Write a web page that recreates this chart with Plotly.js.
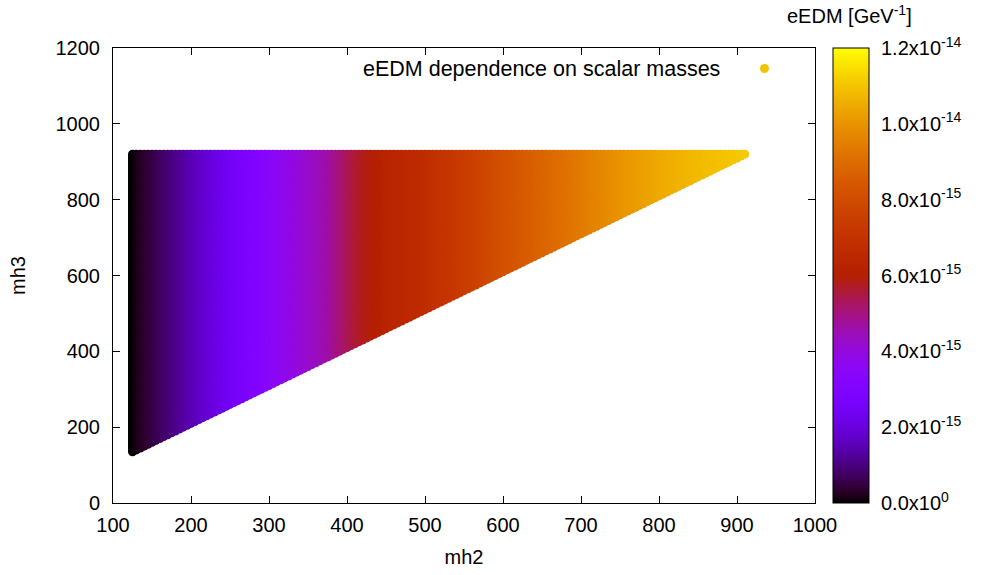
<!DOCTYPE html>
<html>
<head>
<meta charset="utf-8">
<script src="https://cdn.plot.ly/plotly-3.0.1.min.js"></script>
<style>
  html, body { margin: 0; padding: 0; background: #fff; }
  #chart { width: 981px; height: 575px; }
</style>
</head>
<body>
<div id="chart"></div>
<script>
// Scan grid: scalar masses mh2 (columns) and mh3 (rows), in GeV
const mh2 = [125,130,135,140,145,150,155,160,165,170,175,180,185,190,195,200,205,210,215,220,
  225,230,235,240,245,250,255,260,265,270,275,280,285,290,295,300,305,310,315,320,
  325,330,335,340,345,350,355,360,365,370,375,380,385,390,395,400,405,410,415,420,
  425,430,435,440,445,450,455,460,465,470,475,480,485,490,495,500,505,510,515,520,
  525,530,535,540,545,550,555,560,565,570,575,580,585,590,595,600,605,610,615,620,
  625,630,635,640,645,650,655,660,665,670,675,680,685,690,695,700,705,710,715,720,
  725,730,735,740,745,750,755,760,765,770,775,780,785,790,795,800,805,810,815,820,
  825,830,835,840,845,850,855,860,865,870,875,880,885,890,895,900,905,910];

const mh3 = [135,140,145,150,155,160,165,170,175,180,185,190,195,200,205,210,215,220,
  225,230,235,240,245,250,255,260,265,270,275,280,285,290,295,300,305,310,315,320,
  325,330,335,340,345,350,355,360,365,370,375,380,385,390,395,400,405,410,415,420,
  425,430,435,440,445,450,455,460,465,470,475,480,485,490,495,500,505,510,515,520,
  525,530,535,540,545,550,555,560,565,570,575,580,585,590,595,600,605,610,615,620,
  625,630,635,640,645,650,655,660,665,670,675,680,685,690,695,700,705,710,715,720,
  725,730,735,740,745,750,755,760,765,770,775,780,785,790,795,800,805,810,815,820,
  825,830,835,840,845,850,855,860,865,870,875,880,885,890,895,900,905,910,915,920];

// eEDM for each mh2 column, in units of 1e-15 GeV^-1
const eedm15 = [0.00,0.10,0.19,0.29,0.38,0.48,0.58,0.67,0.77,0.86,0.96,1.06,1.15,1.25,1.34,1.44,
  1.54,1.63,1.73,1.82,1.92,2.02,2.11,2.21,2.30,2.40,
  2.50,2.59,2.69,2.78,2.88,2.98,3.07,3.17,3.26,3.36,
  3.44,3.53,3.61,3.70,3.78,3.86,3.95,4.03,4.12,4.20,
  4.28,4.36,4.44,4.52,4.60,4.72,4.86,5.00,5.14,5.28,
  5.40,5.52,5.64,5.74,5.82,5.90,5.99,6.07,6.16,6.24,
  6.29,6.34,6.38,6.43,6.48,6.53,6.58,6.62,6.67,6.72,
  6.78,6.85,6.91,6.98,7.04,7.10,7.17,7.23,7.30,7.36,
  7.44,7.52,7.60,7.68,7.76,7.84,7.92,8.00,8.08,8.16,
  8.22,8.28,8.34,8.40,8.46,8.52,8.58,8.64,8.70,8.76,
  8.82,8.88,8.94,9.00,9.06,9.12,9.18,9.24,9.30,9.36,
  9.42,9.48,9.54,9.60,9.66,9.72,9.78,9.84,9.90,9.96,
  10.01,10.06,10.10,10.15,10.20,10.25,10.30,10.34,10.39,10.44,
  10.48,10.51,10.55,10.58,10.62,10.66,10.69,10.73,10.76,10.80,
  10.82,10.85,10.87,10.90,10.92,10.94,10.97,10.99,11.02,11.04,
  11.07,11.10];

// Only mass orderings with mh3 at least this far above mh2 are in the scan
const minSplit = 10;

// Colour bar ticks
const cbTickVals = [0, 2e-15, 4e-15, 6e-15, 8e-15, 1e-14, 1.2e-14];
const cbTickText = ['0.0x10<sup>0</sup>', '2.0x10<sup>-15</sup>', '4.0x10<sup>-15</sup>',
  '6.0x10<sup>-15</sup>', '8.0x10<sup>-15</sup>', '1.0x10<sup>-14</sup>', '1.2x10<sup>-14</sup>'];

// Build the point table
const xs = [], ys = [], cs = [];
mh2.forEach((m2, i) => {
  mh3.forEach(m3 => {
    if (m3 - m2 >= minSplit) {
      xs.push(m2);
      ys.push(m3);
      cs.push(eedm15[i] * 1e-15);
    }
  });
});

// gnuplot default pm3d palette (rgbformulae 7,5,15)
const palette = [];
for (let k = 0; k <= 60; k++) {
  const t = k / 60;
  const r = Math.round(255 * Math.sqrt(t));
  const g = Math.round(255 * Math.pow(t, 3));
  const b = Math.round(255 * Math.max(0, Math.sin(2 * Math.PI * t)));
  palette.push([t, `rgb(${r},${g},${b})`]);
}

const FONT = 'Liberation Sans, Arial, Helvetica, sans-serif';

const trace = {
  type: 'scatter',
  mode: 'markers',
  x: xs,
  y: ys,
  name: 'eEDM dependence on scalar masses',
  showlegend: false,
  hoverinfo: 'skip',
  marker: {
    size: 9,
    color: cs,
    cmin: 0,
    cmax: 1.2e-14,
    colorscale: palette,
    line: { width: 0 },
    showscale: true,
    colorbar: {
      x: 1.0256,
      xanchor: 'left',
      xpad: 0,
      y: 0.5,
      yanchor: 'middle',
      ypad: 0,
      len: 1,
      lenmode: 'fraction',
      thickness: 36,
      thicknessmode: 'pixels',
      outlinewidth: 1,
      outlinecolor: '#000',
      ticks: 'outside',
      ticklen: 8,
      tickcolor: 'rgba(0,0,0,0)',
      tickmode: 'array',
      tickvals: cbTickVals,
      ticktext: cbTickText,
      tickfont: { family: FONT, size: 20, color: '#000' }
    }
  }
};

const axisCommon = {
  showline: true,
  linecolor: '#000',
  linewidth: 1,
  mirror: 'ticks',
  ticks: 'inside',
  ticklen: 7,
  tickwidth: 1,
  tickcolor: '#000',
  showgrid: false,
  zeroline: false,
  tickfont: { family: FONT, size: 20, color: '#000' }
};

const layout = {
  width: 981,
  height: 575,
  margin: { l: 113, r: 166, t: 48, b: 72 },
  paper_bgcolor: '#fff',
  plot_bgcolor: '#fff',
  font: { family: FONT, size: 20, color: '#000' },
  xaxis: Object.assign({}, axisCommon, {
    range: [100, 1000],
    tickvals: [100, 200, 300, 400, 500, 600, 700, 800, 900, 1000],
    ticklabelstandoff: 4,
    title: { text: 'mh2', font: { family: FONT, size: 20, color: '#000' }, standoff: 14 }
  }),
  yaxis: Object.assign({}, axisCommon, {
    range: [0, 1200],
    tickvals: [0, 200, 400, 600, 800, 1000, 1200],
    ticklabelstandoff: 8,
    title: { text: 'mh3', font: { family: FONT, size: 20, color: '#000' }, standoff: 24 }
  }),
  annotations: [
    {
      xref: 'paper', yref: 'paper',
      x: 1.049, y: 1.073,
      xanchor: 'center', yanchor: 'middle',
      text: 'eEDM [GeV<sup>-1</sup>]',
      showarrow: false,
      font: { family: FONT, size: 20, color: '#000' }
    },
    {
      xref: 'paper', yref: 'paper',
      x: 0.867, y: 0.953,
      xanchor: 'right', yanchor: 'middle',
      text: 'eEDM dependence on scalar masses',
      showarrow: false,
      font: { family: FONT, size: 21.5, color: '#000' }
    }
  ],
  shapes: [
    {
      type: 'circle',
      xref: 'paper', yref: 'paper',
      x0: 0.9216, x1: 0.9344,
      y0: 0.9452, y1: 0.9648,
      fillcolor: '#f2c300',
      line: { width: 0 }
    }
  ]
};

Plotly.newPlot('chart', [trace], layout, { displayModeBar: false, staticPlot: true });
</script>
</body>
</html>
